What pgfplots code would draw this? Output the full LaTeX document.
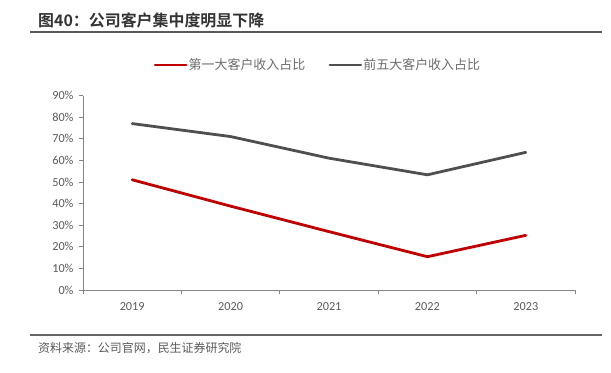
\documentclass[border=0pt]{standalone}
\usepackage{pgfplots}
\pgfplotsset{compat=1.18}
\usepackage{fontspec}
\setmainfont{Carlito}
\newfontfamily\cjk{Noto Sans CJK SC}[BoldFont={Noto Sans CJK SC Bold}]
\definecolor{cred}{HTML}{C00000}
\definecolor{cgray}{HTML}{4F4F4F}
\definecolor{ctext}{HTML}{595959}
\definecolor{caxis}{HTML}{868686}
\begin{document}
\begin{tikzpicture}[x=1bp,y=1bp]
\path[use as bounding box] (0,0) rectangle (611,372);
% title
\node[anchor=west,inner sep=0,text=black!80] at (38,352) {\fontsize{16}{18}\selectfont\cjk\bfseries 图40：公司客户集中度明显下降};
\draw[line width=1.6bp,color=black!65] (30,340) -- (602,340);
% source
\draw[line width=1.2bp,color=black!60] (30,37) -- (602,37);
\node[anchor=west,inner sep=0,text=ctext] at (38,24) {\fontsize{12}{14}\selectfont\cjk 资料来源：公司官网，民生证券研究院};
\begin{axis}[
  at={(83bp,82bp)}, anchor=south west,
  scale only axis, width=492bp, height=194.5bp,
  xmin=-0.5, xmax=4.5, ymin=0, ymax=90,
  axis x line*=bottom, axis y line*=left,
  axis line style={color=caxis, line width=0.8bp},
  xtick={0,1,2,3,4},
  xticklabels={2019,2020,2021,2022,2023},
  major x tick style={draw=none},
  minor xtick={-0.5,0.5,1.5,2.5,3.5,4.5},
  minor x tick style={color=caxis, line width=0.8bp},
  minor tick length=4bp,
  ytick={0,10,...,90},
  yticklabel={\pgfmathprintnumber{\tick}\%},
  y tick style={color=caxis, line width=0.8bp},
  major tick length=4bp,
  tick align=outside,
  tick pos=left,
  /pgf/number format/assume math mode=true,
  ticklabel style={font=\fontsize{12.3}{14}\selectfont, text=ctext},
  xticklabel style={yshift=-5bp},
  yticklabel style={xshift=-2bp},
  legend columns=2,
  legend style={at={(0.4766,1.157)}, anchor=center, draw=none, fill=none,
    font=\fontsize{13}{15}\selectfont\cjk, text=black!58,
    /tikz/every even column/.append style={column sep=22bp},
    nodes={inner sep=1.2bp}},
  legend image code/.code={\draw[#1, line cap=round] (0bp,0bp) -- (31bp,0bp);},
]
\addplot[color=cred, line width=2.8bp, line join=round, line cap=round] coordinates {(0,51) (1,38.8) (2,27) (3,15.4) (4,25.3)};
\addlegendentry{第一大客户收入占比}
\addplot[color=cgray, line width=2.8bp, line join=round, line cap=round] coordinates {(0,77) (1,71) (2,61) (3,53.3) (4,63.7)};
\addlegendentry{前五大客户收入占比}
\end{axis}
\end{tikzpicture}
\end{document}
